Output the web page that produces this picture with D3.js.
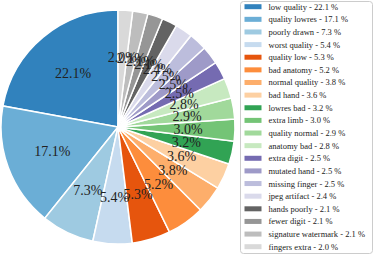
<!DOCTYPE html>
<html>
<head>
<meta charset="utf-8">
<script src="https://cdn.jsdelivr.net/npm/d3@7"></script>
<style>
  body { margin: 0; background: #fff; }
  svg { display: block; }
</style>
</head>
<body>
<svg id="chart" width="374" height="256"></svg>
<script>
var categories = ["low quality", "quality lowres", "poorly drawn", "worst quality", "quality low",
  "bad anatomy", "normal quality", "bad hand", "lowres bad", "extra limb", "quality normal",
  "anatomy bad", "extra digit", "mutated hand", "missing finger", "jpeg artifact",
  "hands poorly", "fewer digit", "signature watermark", "fingers extra"];
var values = [22.1, 17.1, 7.3, 5.4, 5.3, 5.2, 3.8, 3.6, 3.2, 3.0, 2.9, 2.8, 2.5, 2.5, 2.5, 2.4, 2.1, 2.1, 2.1, 2.0];
var colors = ["#3182bd", "#6baed6", "#9ecae1", "#c6dbef", "#e6550d", "#fd8d3c", "#fdae6b", "#fdd0a2",
  "#31a354", "#74c476", "#a1d99b", "#c7e9c0", "#756bb1", "#9e9ac8", "#bcbddc", "#dadaeb",
  "#636363", "#969696", "#bdbdbd", "#d9d9d9"];

var data = categories.map(function(c, i) { return { name: c, value: values[i] }; });

var svg = d3.select("#chart");
var cx = 118, cy = 127, radius = 117;

var color = d3.scaleOrdinal().domain(categories).range(colors);

// counter-clockwise from 12 o'clock
var pie = d3.pie()
  .sort(null)
  .value(function(d) { return d.value; })
  .startAngle(0)
  .endAngle(-2 * Math.PI);

var arc = d3.arc().innerRadius(0).outerRadius(radius);
var labelArc = d3.arc().innerRadius(70).outerRadius(70);

var g = svg.append("g").attr("transform", "translate(" + cx + "," + cy + ")");
var arcs = pie(data);

g.selectAll("path.slice")
  .data(arcs)
  .enter().append("path")
  .attr("class", "slice")
  .attr("d", arc)
  .attr("fill", function(d) { return color(d.data.name); })
  .attr("stroke", "#fff")
  .attr("stroke-width", 1.5);

g.selectAll("text.pct")
  .data(arcs)
  .enter().append("text")
  .attr("class", "pct")
  .attr("transform", function(d) { return "translate(" + labelArc.centroid(d) + ")"; })
  .attr("text-anchor", "middle")
  .attr("dy", "0.35em")
  .style("font-family", "'Liberation Serif', 'DejaVu Serif', serif")
  .style("font-size", "14px")
  .style("fill", "#222")
  .text(function(d) { return d.data.value.toFixed(1) + "%"; });

// legend
var legend = svg.append("g").attr("transform", "translate(240,1)");
legend.append("rect")
  .attr("x", 0.5).attr("y", 0.5)
  .attr("width", 132).attr("height", 252)
  .attr("rx", 3)
  .attr("fill", "#fff")
  .attr("stroke", "#ccc");

var rowY = d3.scaleLinear().domain([0, categories.length - 1]).range([5.7, 245.7]);

var rows = legend.selectAll("g.item")
  .data(data)
  .enter().append("g")
  .attr("class", "item")
  .attr("transform", function(d, i) { return "translate(0," + rowY(i) + ")"; });

rows.append("rect")
  .attr("x", 4.5).attr("y", -2.5)
  .attr("width", 17).attr("height", 5)
  .attr("fill", function(d) { return color(d.name); });

rows.append("text")
  .attr("x", 28.5)
  .attr("dy", "0.35em")
  .style("font-family", "'Liberation Serif', 'DejaVu Serif', serif")
  .style("font-size", "8.5px")
  .style("fill", "#222")
  .text(function(d) { return d.name + " - " + d.value.toFixed(1) + " %"; });
</script>
</body>
</html>
